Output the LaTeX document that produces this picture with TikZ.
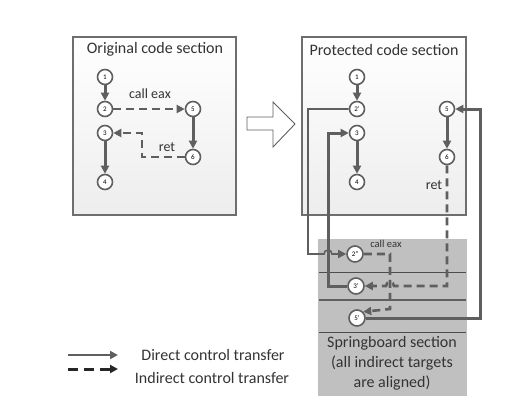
\documentclass[tikz,border=0pt]{standalone}
\usepackage{fontspec}
\setmainfont{Carlito}
\usetikzlibrary{arrows.meta}
\definecolor{linegray}{RGB}{95,95,95}
\definecolor{boxgray}{RGB}{110,110,110}
\definecolor{boardgray}{RGB}{192,192,192}
\tikzset{
  blk/.style={circle,draw=linegray,line width=1.6pt,fill=white,inner sep=0pt,minimum size=15pt,font=\fontsize{7}{8}\selectfont},
  direct/.style={draw=linegray,line width=3pt,-{Triangle[length=8pt,width=8pt]}},
  thindirect/.style={draw=linegray,line width=1.6pt,-{Triangle[length=8pt,width=8pt]}},
  indirect/.style={draw=linegray,line width=2.6pt,dash pattern=on 8pt off 5pt,-{Triangle[length=8pt,width=8pt]}},
  big/.style={font=\fontsize{16}{20}\selectfont,text=black!80},
  mid/.style={font=\fontsize{14}{16}\selectfont,text=black!80},
  small/.style={font=\fontsize{10.5}{12}\selectfont,text=black!80},
}
\begin{document}
\begin{tikzpicture}[x=1pt,y=-1pt]
  \useasboundingbox (0,0) rectangle (523,405);
  \draw[boxgray,line width=1.2pt,top color=white,bottom color=gray!14] (73,37) rectangle (236,215); % original
  \draw[boxgray,line width=1.2pt,top color=white,bottom color=gray!14] (302,37) rectangle (466,215); % protected
  \fill[boardgray] (318,239) rectangle (466,395); % springboard
  \draw[gray!60!black,line width=0.9pt] (318,272) -- (466,272);
  \draw[linegray,line width=2.2pt] (318,300) -- (466,300);
  \draw[gray!60!black,line width=0.9pt] (318,332) -- (466,332);
  \draw[gray!50,line width=0.9pt] (318,239) rectangle (466,395);
  % hollow arrow
  \draw[linegray,line width=0.9pt,fill=white] (247,117) -- (273,117) -- (273,102) -- (295,124)
    -- (273,147) -- (273,130) -- (247,130) -- cycle;
  % titles
  \node[big] (torig) at (155,49) {Original code section};
  \node[big] (tprot) at (384,50) {Protected code section};
  \node[big,align=center] (tboard) at (392,363) {Springboard section\\(all indirect targets\\are aligned)};
  % original code
  \node[blk] (o1) at (105,77) {1};
  \node[blk] (o2) at (105,109) {2};
  \node[blk] (o3) at (105,133) {3};
  \node[blk] (o4) at (105,182) {4};
  \node[blk] (o5) at (193,109) {5};
  \node[blk] (o6) at (193,157) {6};
  \node[mid] (ocall) at (150,94) {call eax};
  \node[mid] (oret) at (167,147) {ret};
  \draw[direct] (o1) -- (o2);
  \draw[direct] (o3) -- (o4);
  \draw[direct] (o5) -- (o6);
  \draw[indirect] (o2) -- (o5);
  \draw[indirect] (o6.west) -- (142,157) -- (142,133) -- (o3.east);
  % protected code
  \node[blk] (p1) at (357,77) {1};
  \node[blk] (p2) at (357,109) {2'};
  \node[blk] (p3) at (357,133) {3};
  \node[blk] (p4) at (357,182) {4};
  \node[blk] (p5) at (447,109) {5};
  \node[blk] (p6) at (447,157) {6};
  \node[mid] (pret) at (434,185) {ret};
  \draw[direct] (p1) -- (p2);
  \draw[direct] (p3) -- (p4);
  \draw[direct] (p5) -- (p6);
  % springboard
  \node[blk,minimum size=16pt] (s2) at (355,254) {2''};
  \node[blk,minimum size=16pt] (s3) at (356,286) {3'};
  \node[blk,minimum size=16pt] (s5) at (357,318) {5'};
  \node[small] (scall) at (386,244) {call eax};
  \draw[thindirect] (p2.west) -- (308,109) -- (308,254) -- (324,254)
    arc[start angle=180,end angle=360,radius=4] -- (s2.west);
  \draw[direct] (s3.west) -- (328,286) -- (328,133) -- (p3.west);
  \draw[direct] (s5.east) -- (480,318) -- (480,109) -- (p5.east);
  \draw[indirect] (s2.east) -- (390,254) -- (390,309) -- (s5.north east);
  \draw[indirect] (p6.south) -- (447,286) -- (394,286)
    arc[start angle=0,end angle=-180,radius=4] -- (s3.east);
  % legend
  \coordinate (ld1) at (68,355);
  \coordinate (ld2) at (118,355);
  \coordinate (li1) at (68,369);
  \coordinate (li2) at (118,369);
  \draw[linegray,line width=2.2pt,-{Triangle[length=8pt,width=8pt]}] (ld1) -- (ld2);
  \draw[black!85,line width=3pt,dash pattern=on 10pt off 6pt,-{Triangle[length=8pt,width=8pt]}] (li1) -- (li2);
  \node[big] (ldirect) at (213,355) {Direct control transfer};
  \node[big] (lindirect) at (212,378) {Indirect control transfer};
\end{tikzpicture}
\end{document}
